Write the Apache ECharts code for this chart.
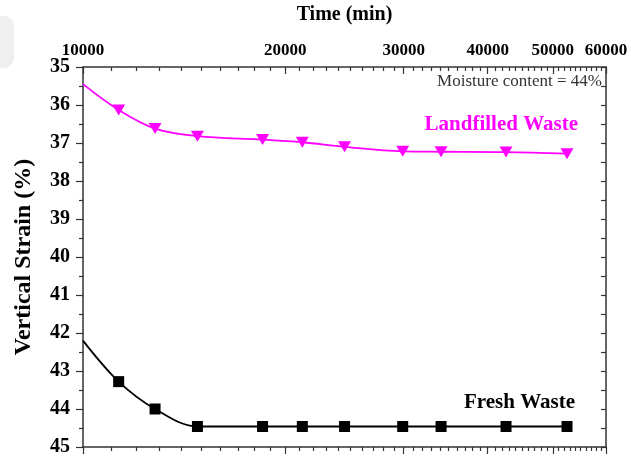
<!DOCTYPE html>
<html>
<head>
<meta charset="utf-8">
<script src="https://cdn.jsdelivr.net/npm/echarts@6/dist/echarts.min.js"></script>
<style>
  html, body { margin: 0; padding: 0; background: #fff; }
  #chart { width: 631px; height: 457px; }
</style>
</head>
<body>
<div id="chart"></div>
<script>
// time (min)
var timeMin = [10000, 11300, 12800, 14800, 18500, 21200, 24500, 29900, 34100, 42600, 52500];
// vertical strain (%)
var landfilled = [35.45, 36.13, 36.62, 36.82, 36.91, 36.98, 37.10, 37.22, 37.23, 37.24, 37.28];
var fresh = [42.2, 43.28, 44.0, 44.46, 44.46, 44.46, 44.46, 44.46, 44.46, 44.46, 44.46];
var majorTicks = [10000, 20000, 30000, 40000, 50000, 60000];
var minorTicks = [11000, 12000, 13000, 14000, 15000, 16000, 17000, 18000, 19000,
    21000, 22000, 23000, 24000, 25000, 26000, 27000, 28000, 29000,
    31000, 32000, 33000, 34000, 35000, 36000, 37000, 38000, 39000,
    41000, 42000, 43000, 44000, 45000, 46000, 47000, 48000, 49000,
    51000, 52000, 53000, 54000, 55000, 56000, 57000, 58000, 59000];

var serif = '"Liberation Serif", "DejaVu Serif", serif';
var axisColor = '#333';

function pairs(ys) {
    return ys.map(function (y, i) {
        var p = { value: [timeMin[i], y] };
        if (i === 0) p.symbol = 'none';
        return p;
    });
}

function xAx(pos, ticks, len, inside, extra) {
    var a = {
        type: 'log',
        logBase: 10,
        min: 10000,
        max: 60000,
        position: pos,
        axisLine: { show: true, lineStyle: { color: axisColor, width: 1.5 } },
        axisTick: { show: true, customValues: ticks, inside: inside, length: len,
            lineStyle: { color: axisColor, width: 1.2 } },
        axisLabel: { show: false },
        splitLine: { show: false },
        minorTick: { show: false }
    };
    for (var k in extra) a[k] = extra[k];
    return a;
}

var chart = echarts.init(document.getElementById('chart'));
var option = {
    animation: false,
    backgroundColor: '#fff',
    grid: { left: 83, right: 25, top: 60, bottom: 7 },
    graphic: [
        { type: 'rect', left: 0, top: 16, shape: { width: 14, height: 52, r: [0, 10, 10, 0] },
          style: { fill: '#efefef' } },
        { type: 'text', right: 29, top: 73,
          style: { text: 'Moisture content = 44%', font: '17px ' + serif, fill: '#333' } },
        { type: 'text', right: 53, top: 114,
          style: { text: 'Landfilled Waste', font: 'bold 21px ' + serif, fill: '#ff00ff' } },
        { type: 'text', right: 56, top: 392,
          style: { text: 'Fresh Waste', font: 'bold 21px ' + serif, fill: '#000' } }
    ],
    xAxis: [
        xAx('top', majorTicks, 7, true, {
            name: 'Time (min)',
            nameLocation: 'middle',
            nameGap: 42,
            nameTextStyle: { fontFamily: serif, fontWeight: 'bold', fontSize: 20, color: '#000' },
            axisLabel: {
                show: true, customValues: majorTicks, margin: 8,
                fontFamily: serif, fontWeight: 'bold', fontSize: 17, color: '#000',
                formatter: function (v) { return String(Math.round(v)); }
            }
        }),
        xAx('top', minorTicks, 4, true, { axisLine: { show: false } }),
        xAx('bottom', majorTicks, 7, false, {}),
        xAx('bottom', minorTicks, 4, false, { axisLine: { show: false } })
    ],
    yAxis: [
        {
            type: 'value',
            inverse: true,
            min: 35,
            max: 45,
            interval: 1,
            position: 'left',
            name: 'Vertical Strain (%)',
            nameLocation: 'middle',
            nameGap: 47,
            nameTextStyle: { fontFamily: serif, fontWeight: 'bold', fontSize: 24, color: '#000' },
            axisLine: { show: true, lineStyle: { color: axisColor, width: 1.5 } },
            axisTick: { show: true, inside: false, length: 7, lineStyle: { color: axisColor, width: 1.2 } },
            minorTick: { show: true, splitNumber: 2, length: 4, lineStyle: { color: axisColor, width: 1.2 } },
            axisLabel: { margin: 13, fontFamily: serif, fontWeight: 'bold', fontSize: 20, color: '#000' },
            splitLine: { show: false }
        },
        {
            type: 'value',
            inverse: true,
            min: 35,
            max: 45,
            interval: 0.5,
            position: 'right',
            axisLine: { show: true, lineStyle: { color: axisColor, width: 1.5 } },
            axisTick: { show: true, inside: true, length: 5, lineStyle: { color: axisColor, width: 1.2 } },
            axisLabel: { show: false },
            splitLine: { show: false }
        }
    ],
    series: [
        {
            name: 'Landfilled Waste',
            type: 'line',
            xAxisIndex: 0,
            yAxisIndex: 0,
            smooth: 0.35,
            symbol: 'triangle',
            symbolRotate: 180,
            symbolSize: [13, 11],
            lineStyle: { color: '#ff00ff', width: 1.8 },
            itemStyle: { color: '#ff00ff' },
            data: pairs(landfilled)
        },
        {
            name: 'Fresh Waste',
            type: 'line',
            xAxisIndex: 0,
            yAxisIndex: 0,
            smooth: 0.35,
            symbol: 'rect',
            symbolSize: 11,
            lineStyle: { color: '#000', width: 1.8 },
            itemStyle: { color: '#000' },
            data: pairs(fresh)
        }
    ]
};
chart.setOption(option);
</script>
</body>
</html>
